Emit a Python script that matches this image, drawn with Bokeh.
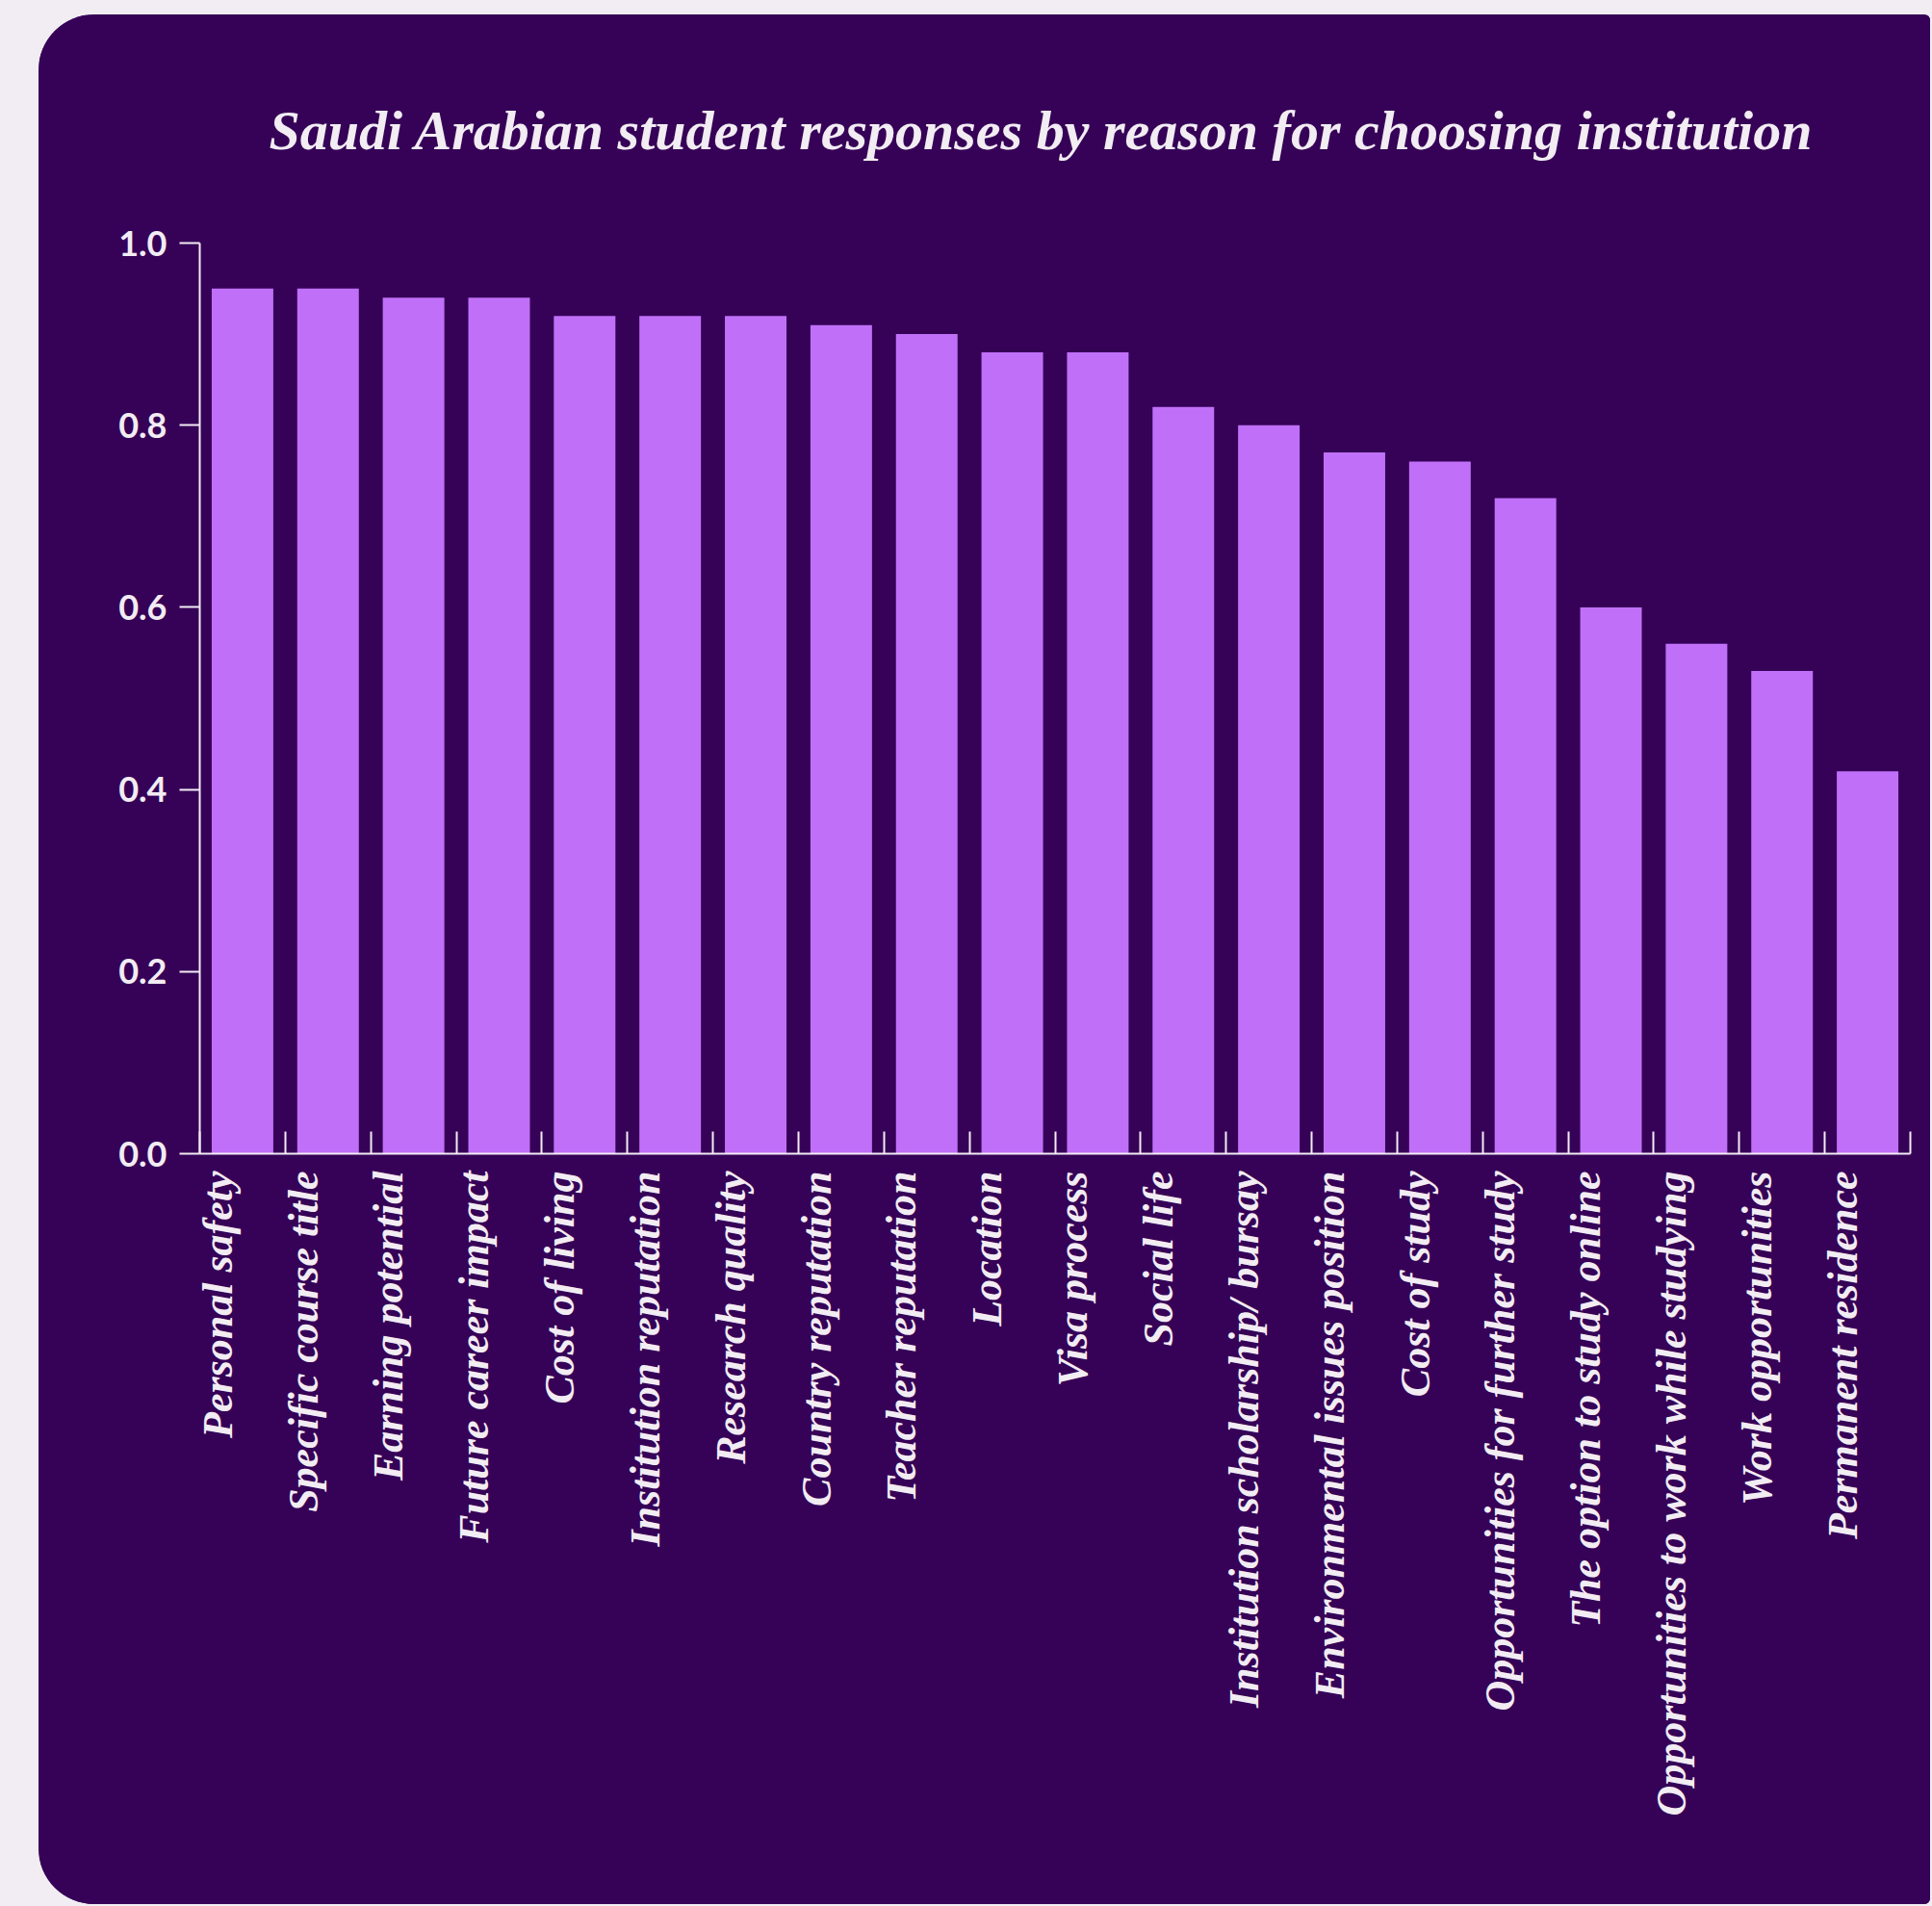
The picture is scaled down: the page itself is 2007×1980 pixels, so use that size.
import math
from bokeh.plotting import figure
from bokeh.models import (Range1d, LinearAxis, FixedTicker, Title, NumeralTickFormatter,
                          GlobalInlineStyleSheet, Spacer)
from bokeh.layouts import column, row
from bokeh.embed import file_html
from bokeh.resources import INLINE

categories = [
    "Personal safety", "Specific course title", "Earning potential", "Future career impact",
    "Cost of living", "Institution reputation", "Research quality", "Country reputation",
    "Teacher reputation", "Location", "Visa process", "Social life",
    "Institution scholarship/ bursay", "Environmental issues position", "Cost of study",
    "Opportunities for further study", "The option to study online",
    "Opportunities to work while studying", "Work opportunities", "Permanent residence",
]
values = [0.95, 0.95, 0.94, 0.94, 0.92, 0.92, 0.92, 0.91, 0.90, 0.88, 0.88, 0.82,
          0.80, 0.77, 0.76, 0.72, 0.60, 0.56, 0.53, 0.42]
y_ticks = [0.0, 0.2, 0.4, 0.6, 0.8, 1.0]
title_text = "Saudi Arabian student responses by reason for choosing institution"

CARD = "#360257"
BAR = "#c070f8"
TEXT = "#f2ecf3"
PAGE = "#f1edf2"

n = len(categories)
xs = [i + 0.5 for i in range(n)]

LEFT_PAD, TOP_PAD = 40, 15
W, H = 1965, 1963
FRAME_W, FRAME_H = 1777, 946
BL, BT = 167, 237
p = figure(width=W, height=H, output_backend="svg", toolbar_location=None,
           x_range=Range1d(0, n), y_range=Range1d(0, 1.0),
           x_axis_location=None, y_axis_location=None,
           min_border_left=BL, min_border_right=W - BL - FRAME_W,
           min_border_top=BT, min_border_bottom=H - BT - FRAME_H,
           background_fill_color=CARD, border_fill_color=CARD)
p.outline_line_color = None
p.grid.visible = False

p.vbar(x=xs, top=values, width=0.72, bottom=0, fill_color=BAR, line_color=None)

# y axis
yax = LinearAxis(ticker=FixedTicker(ticks=y_ticks), formatter=NumeralTickFormatter(format="0.0"))
yax.axis_line_color = TEXT
yax.axis_line_width = 2
yax.major_tick_line_color = TEXT
yax.major_tick_line_width = 2
yax.major_tick_in = 0
yax.major_tick_out = 21
yax.minor_tick_line_color = None
yax.major_label_standoff = 13
yax.major_label_text_font = "Lato"
yax.major_label_text_font_style = "bold"
yax.major_label_text_font_size = "36px"
yax.major_label_text_color = TEXT
p.add_layout(yax, "left")

# x axis: boundary ticks
xtick = LinearAxis(ticker=FixedTicker(ticks=list(range(n + 1))))
xtick.axis_line_color = TEXT
xtick.axis_line_width = 2
xtick.major_tick_line_color = TEXT
xtick.major_tick_line_width = 2
xtick.major_tick_in = 23
xtick.major_tick_out = 0
xtick.minor_tick_line_color = None
xtick.major_label_overrides = {i: "" for i in range(n + 1)}
xtick.major_label_text_font_size = "1px"
xtick.major_label_standoff = 0
p.add_layout(xtick, "below")

# x axis: category labels
label_pos = [i + 0.21 for i in range(n)]
xlab = LinearAxis(ticker=FixedTicker(ticks=label_pos))
xlab.axis_line_color = None
xlab.major_tick_line_color = None
xlab.minor_tick_line_color = None
xlab.major_label_overrides = {pos: name for pos, name in zip(label_pos, categories)}
xlab.major_label_orientation = math.pi / 2
xlab.major_label_standoff = 12
xlab.major_label_text_font = "Liberation Serif"
xlab.major_label_text_font_style = "bold italic"
xlab.major_label_text_font_size = "44px"
xlab.major_label_text_color = TEXT
p.add_layout(xlab, "below")

t = Title(text=title_text, align="left", offset=72, text_font="Liberation Serif",
          text_font_style="bold italic", text_font_size="58px", text_color=TEXT, standoff=169)
p.add_layout(t, "above")

p.styles = {"border-radius": "58px 6px 6px 58px", "overflow": "hidden", "background-color": CARD}

layout = column(Spacer(width=W + LEFT_PAD, height=TOP_PAD),
                row(Spacer(width=LEFT_PAD, height=H), p, width=W + LEFT_PAD, height=H),
                width=W + LEFT_PAD, height=H + TOP_PAD,
                stylesheets=[GlobalInlineStyleSheet(css="html, body { background-color: %s; }" % PAGE)])

open("out.html", "w").write(file_html(layout, INLINE))
